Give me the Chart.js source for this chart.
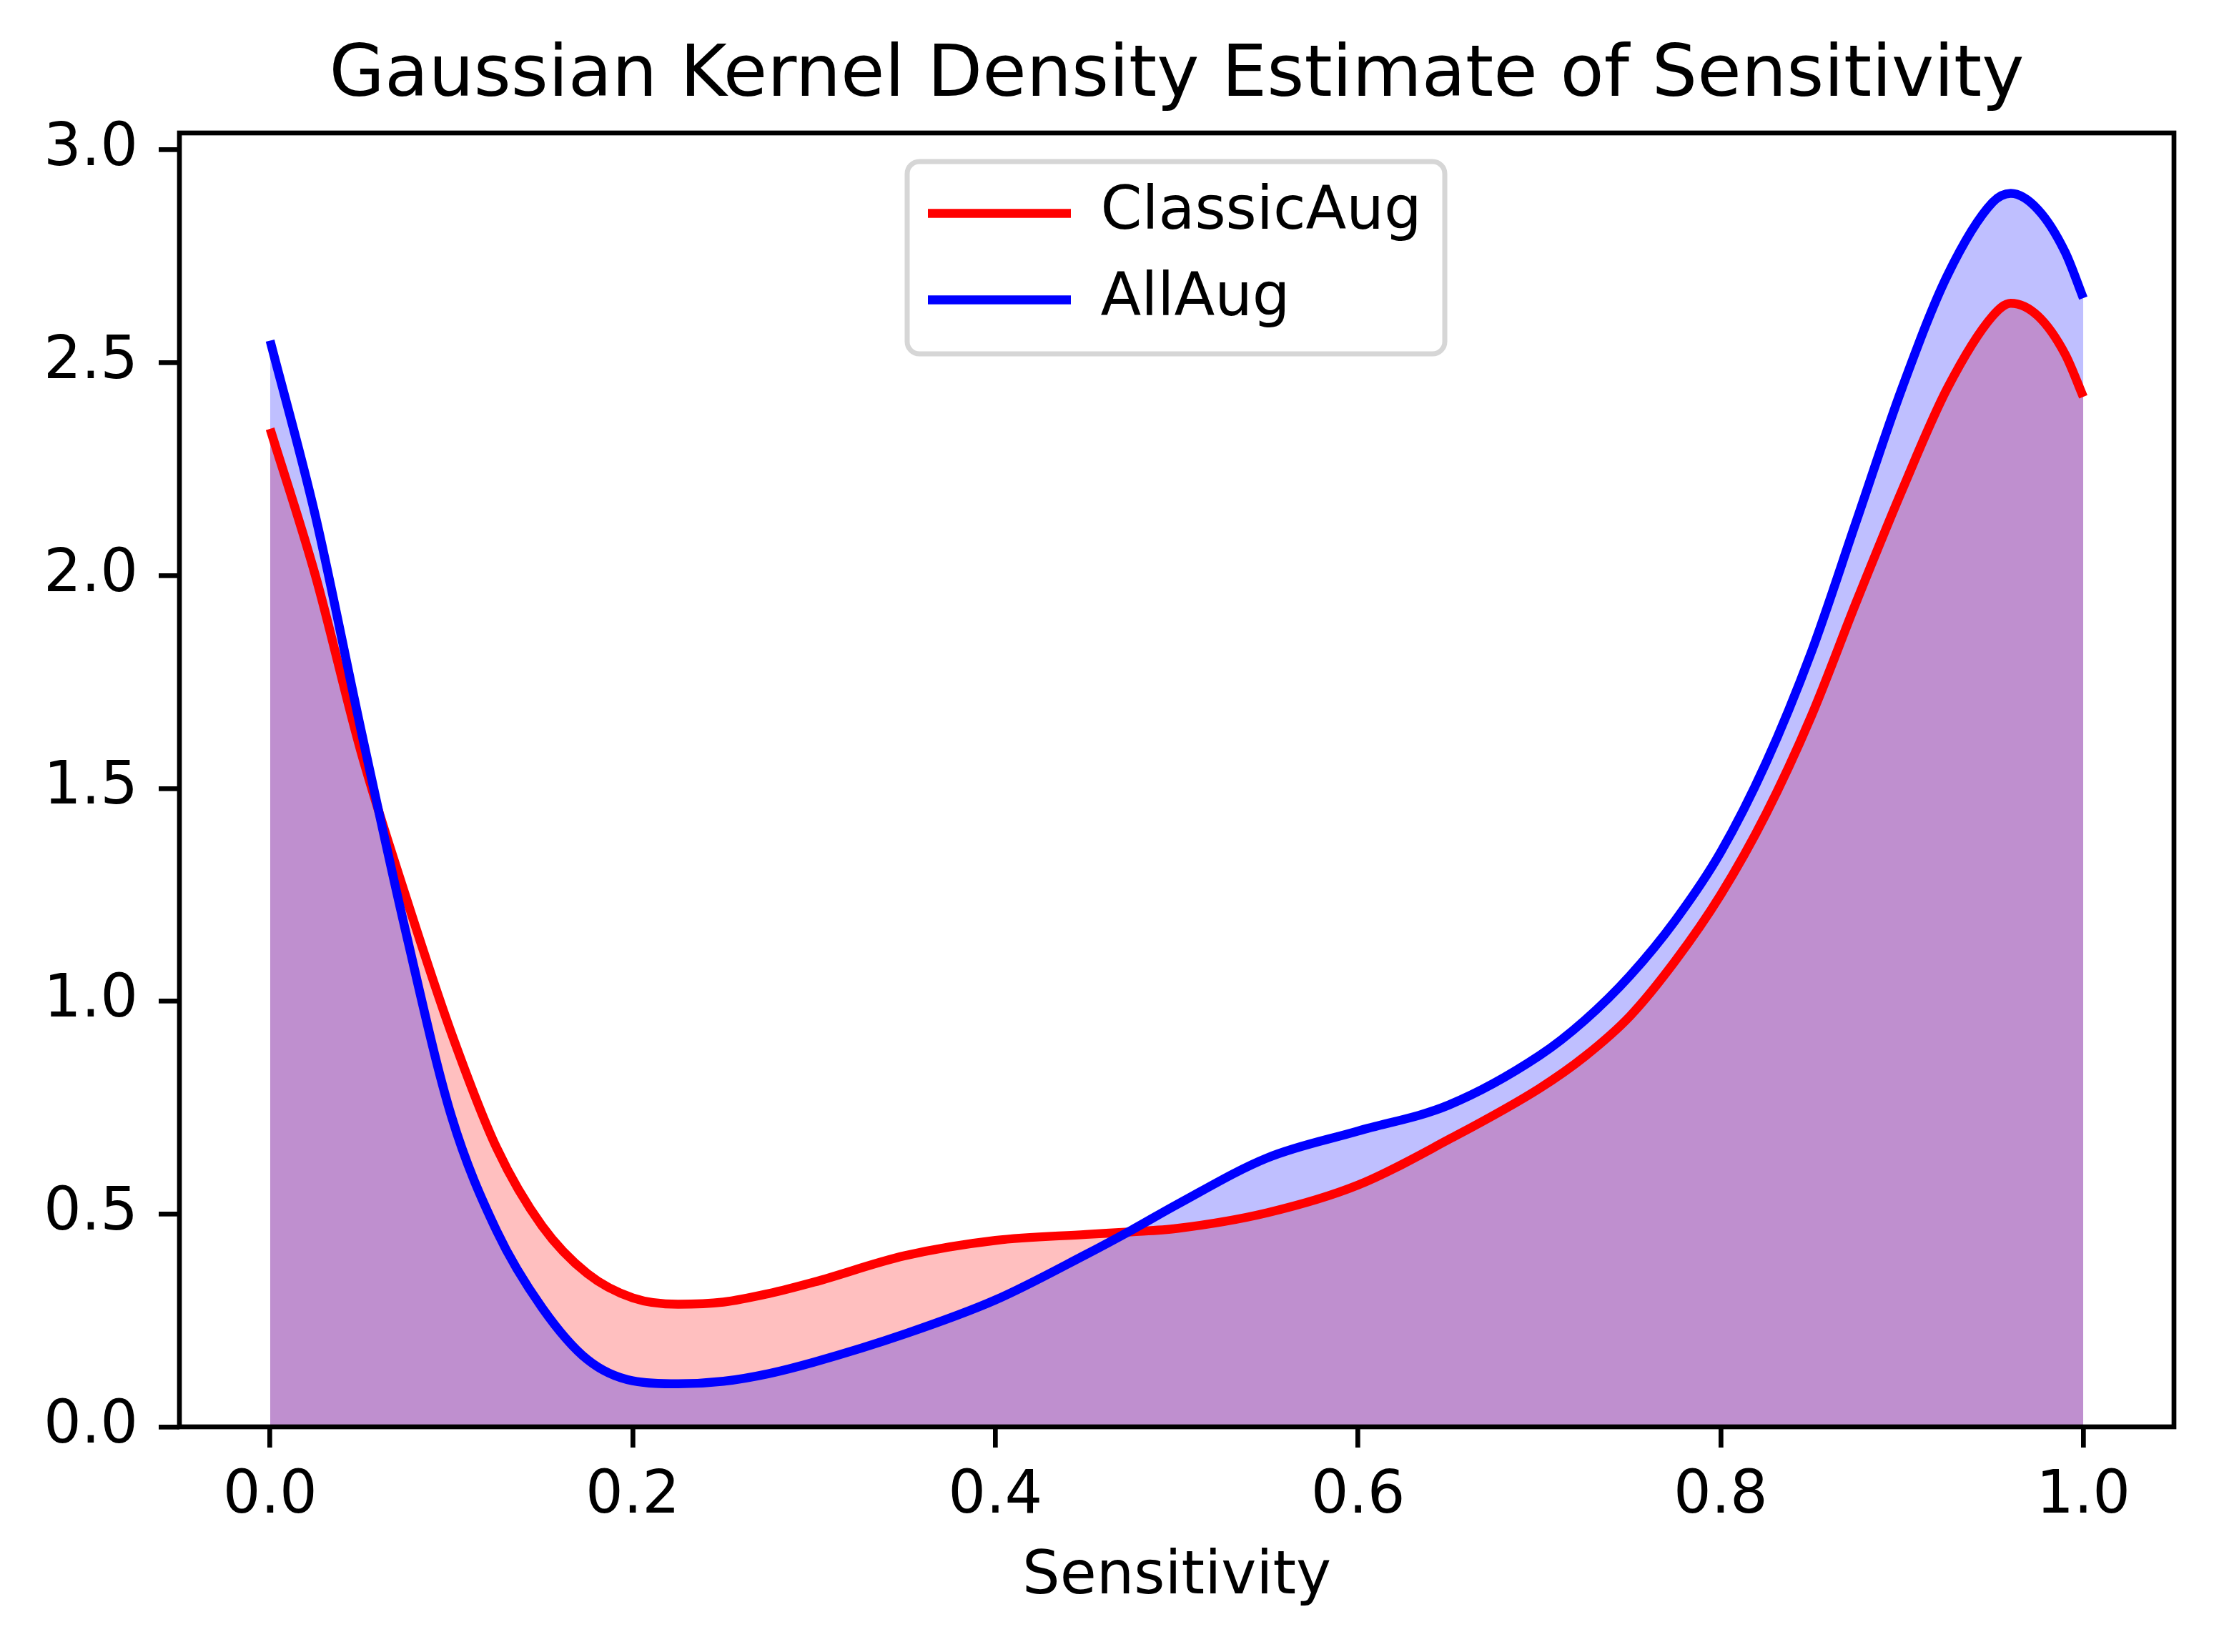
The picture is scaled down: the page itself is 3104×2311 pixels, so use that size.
<!DOCTYPE html>
<html>
<head>
<meta charset="utf-8">
<script src="https://cdn.jsdelivr.net/npm/chart.js@4.4.0/dist/chart.umd.min.js"></script>
<style>
  html, body { margin: 0; padding: 0; background: #fff; }
  canvas { display: block; }
</style>
</head>
<body>
<canvas id="chart" width="3104" height="2311"></canvas>
<script>
/* valores */
const sensitivity = [0, 0.025, 0.05, 0.075, 0.1, 0.125, 0.15, 0.175, 0.2, 0.225, 0.25, 0.275, 0.3, 0.35, 0.4, 0.45,
    0.475, 0.5, 0.55, 0.6, 0.65, 0.7, 0.725, 0.75, 0.775, 0.8, 0.825, 0.85, 0.875, 0.9, 0.925, 0.95, 0.96, 0.975,
    0.99, 1.0];
const classicAug = [2.345, 2.0, 1.588, 1.244, 0.925, 0.655, 0.472, 0.36, 0.303, 0.288, 0.293, 0.313, 0.34, 0.402,
    0.438, 0.452, 0.458, 0.466, 0.503, 0.568, 0.675, 0.795, 0.87, 0.965, 1.095, 1.25, 1.44, 1.67, 1.94, 2.2, 2.44,
    2.61, 2.64, 2.61, 2.52, 2.42];
const allAug = [2.552, 2.14, 1.64, 1.16, 0.73, 0.46, 0.28, 0.158, 0.108, 0.101, 0.107, 0.125, 0.152, 0.218, 0.298,
    0.405, 0.462, 0.522, 0.632, 0.695, 0.756, 0.872, 0.955, 1.06, 1.19, 1.35, 1.56, 1.82, 2.13, 2.44, 2.705, 2.877,
    2.898, 2.86, 2.76, 2.652];
const seriesNames = ['ClassicAug', 'AllAug'];
const xTicks = [0, 0.2, 0.4, 0.6, 0.8, 1.0];
const yTicks = [0, 0.5, 1.0, 1.5, 2.0, 2.5, 3.0];

Chart.defaults.font.family = '"DejaVu Sans", sans-serif';
Chart.defaults.color = '#000';

const toPoints = ys => ys.map((v, i) => ({ x: sensitivity[i], y: v }));

/* marco de los ejes y caja de la leyenda */
const marco = {
    id: 'marco',
    afterLayout(chart) {
        const lg = chart.legend;
        lg.left = 1260; lg.top = 219; lg.right = 2100; lg.bottom = 700;
        lg.width = 840; lg.height = 481;
    },
    beforeDraw(chart) {
        const ctx = chart.ctx;
        ctx.save();
        ctx.beginPath();
        ctx.roundRect(1269, 226, 752, 269, 17);
        ctx.fillStyle = '#fff';
        ctx.fill();
        ctx.lineWidth = 7;
        ctx.strokeStyle = '#d6d6d6';
        ctx.stroke();
        ctx.restore();
    },
    afterDraw(chart) {
        const { left, top, right, bottom } = chart.chartArea;
        const ctx = chart.ctx;
        ctx.save();
        ctx.lineWidth = 6.7;
        ctx.strokeStyle = '#000';
        ctx.strokeRect(left, top, right - left, bottom - top);
        ctx.restore();
    }
};

const gridOpts = { drawOnChartArea: false, drawTicks: true, tickLength: 29, color: '#000', lineWidth: 6.7 };

new Chart(document.getElementById('chart'), {
    type: 'line',
    data: {
        datasets: [{
            label: seriesNames[0],
            data: toPoints(classicAug),
            borderColor: '#ff0000',
            backgroundColor: 'rgba(255, 0, 0, 0.25)',
            borderWidth: 12.5,
            pointRadius: 0,
            pointHoverRadius: 0,
            fill: 'origin',
            cubicInterpolationMode: 'monotone',
            order: 2
        }, {
            label: seriesNames[1],
            data: toPoints(allAug),
            borderColor: '#0000ff',
            backgroundColor: 'rgba(0, 0, 255, 0.25)',
            borderWidth: 12.5,
            pointRadius: 0,
            pointHoverRadius: 0,
            fill: 'origin',
            cubicInterpolationMode: 'monotone',
            order: 1
        }]
    },
    options: {
        responsive: false,
        animation: false,
        devicePixelRatio: 1,
        events: [],
        layout: { padding: { left: 0, right: 63, top: 0, bottom: 0 } },
        scales: {
            x: {
                type: 'linear',
                min: -0.05,
                max: 1.05,
                afterBuildTicks: s => { s.ticks = xTicks.map(v => ({ value: v })); },
                afterFit: s => { s.height = 315; },
                grid: gridOpts,
                border: { display: false },
                ticks: { font: { size: 83 }, padding: 20, maxRotation: 0, autoSkip: false,
                    callback: v => v.toFixed(1) },
                title: { display: true, text: 'Sensitivity', font: { size: 83 },
                    padding: { top: 0, bottom: 54 } }
            },
            y: {
                min: 0,
                max: 3.04,
                afterBuildTicks: s => { s.ticks = yTicks.map(v => ({ value: v })); },
                afterFit: s => { s.width = 251; },
                grid: gridOpts,
                border: { display: false },
                ticks: { font: { size: 83 }, padding: 29, autoSkip: false,
                    callback: v => v.toFixed(1) }
            }
        },
        plugins: {
            filler: { drawTime: 'beforeDatasetsDraw' },
            tooltip: { enabled: false },
            title: {
                display: true,
                text: 'Gaussian Kernel Density Estimate of Sensitivity',
                fullSize: false,
                font: { size: 100, weight: 'normal' },
                padding: { top: 48, bottom: 18 }
            },
            legend: {
                position: 'chartArea',
                align: 'start',
                labels: {
                    usePointStyle: true,
                    pointStyle: 'line',
                    pointStyleWidth: 200,
                    padding: 38,
                    font: { size: 83 },
                    generateLabels: chart => chart.data.datasets.map((ds, i) => ({
                        text: ds.label,
                        strokeStyle: ds.borderColor,
                        fillStyle: ds.borderColor,
                        lineWidth: ds.borderWidth,
                        pointStyle: 'line',
                        fontColor: '#000',
                        hidden: false,
                        datasetIndex: i
                    }))
                }
            }
        }
    },
    plugins: [marco]
});
</script>
</body>
</html>
